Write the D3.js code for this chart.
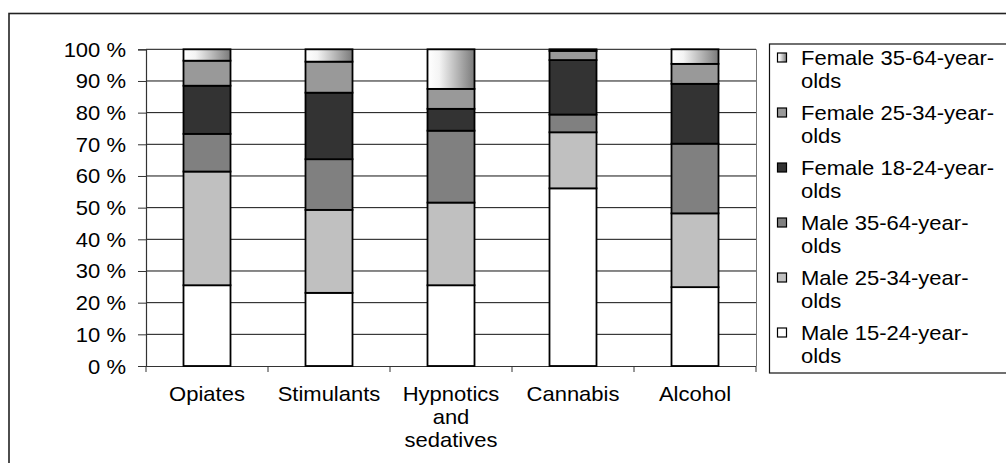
<!DOCTYPE html>
<html><head><meta charset="utf-8">
<script src="https://cdn.jsdelivr.net/npm/d3@7"></script>
<style>
html,body{margin:0;padding:0;background:#fff;}
svg{display:block;}
text{font-family:"Liberation Sans",Arial,sans-serif;font-size:20px;fill:#000;}
</style></head>
<body>
<svg id="c" width="1006" height="463"></svg>
<script>
const categories = [["Opiates"],["Stimulants"],["Hypnotics","and","sedatives"],["Cannabis"],["Alcohol"]];
const seriesNames = ["Male 15-24-year-olds","Male 25-34-year-olds","Male 35-64-year-olds","Female 18-24-year-olds","Female 25-34-year-olds","Female 35-64-year-olds"];
const male1524   = [25.5, 23.1, 25.5, 56.1, 24.9];
const male2534   = [35.9, 26.2, 26.1, 17.7, 23.3];
const male3564   = [11.9, 16.0, 22.7,  5.6, 22.0];
const female1824 = [15.2, 21.0,  6.9, 17.2, 18.9];
const female2534 = [ 7.9,  9.8,  6.3,  2.9,  6.3];
const female3564 = [ 3.6,  3.9, 12.5,  0.5,  4.6];
const yTicks = [0,10,20,30,40,50,60,70,80,90,100];
const legendLines = [["Female 35-64-year-","olds"],["Female 25-34-year-","olds"],["Female 18-24-year-","olds"],["Male 35-64-year-","olds"],["Male 25-34-year-","olds"],["Male 15-24-year-","olds"]];

const seriesValues = [male1524, male2534, male3564, female1824, female2534, female3564];
const fills = ["#ffffff","#c0c0c0","#808080","#333333","#999999","url(#grad)"];

const svg = d3.select("#c");
const defs = svg.append("defs");
const g = defs.append("linearGradient").attr("id","grad").attr("x1","0").attr("x2","1").attr("y1","0").attr("y2","0");
g.append("stop").attr("offset","0%").attr("stop-color","#ffffff");
g.append("stop").attr("offset","25%").attr("stop-color","#f4f4f4");
g.append("stop").attr("offset","100%").attr("stop-color","#7a7a7a");

// outer border
svg.append("rect").attr("x",9).attr("y",13.5).attr("width",1100).attr("height",600)
  .attr("fill","none").attr("stroke","#222").attr("stroke-width",1.6);

const L = 146, R = 756, T = 49.3, B = 366;
const x = d3.scaleBand().domain(d3.range(categories.length)).range([L,R]).paddingInner(0).paddingOuter(0);
const y = d3.scaleLinear().domain([0,100]).range([B,T]);
const bw = 47;

// gridlines
svg.append("g").selectAll("line").data(yTicks.filter(d=>d>0)).join("line")
  .attr("x1",L).attr("x2",R).attr("y1",d=>y(d)).attr("y2",d=>y(d))
  .attr("stroke","#111").attr("stroke-width",1);
// right border of plot
svg.append("line").attr("x1",R+0.5).attr("x2",R+0.5).attr("y1",T).attr("y2",B).attr("stroke","#777").attr("stroke-width",1);

// y axis
const yAxis = d3.axisLeft(y).tickValues(yTicks).tickSize(8).tickPadding(0).tickFormat(d=>d+" %");
const ya = svg.append("g").attr("transform",`translate(${L},0)`).call(yAxis);
ya.select(".domain").attr("stroke","#333").attr("stroke-width",1.2);
ya.selectAll(".tick line").attr("stroke","#333");
ya.selectAll(".tick text").attr("font-size",null).attr("font-family",null).attr("fill","#000")
  .attr("x",null).attr("dy",null)
  .attr("transform","translate(-20,7) scale(1.1,1)").attr("text-anchor","end");

// x axis
const xa = svg.append("g").attr("transform",`translate(0,${B})`);
xa.append("line").attr("x1",L).attr("x2",R).attr("y1",0.5).attr("y2",0.5).attr("stroke","#333").attr("stroke-width",1.2);
xa.selectAll("line.tk").data(d3.range(categories.length+1)).join("line").attr("class","tk")
  .attr("x1",i=>L+i*x.bandwidth()).attr("x2",i=>L+i*x.bandwidth()).attr("y1",0).attr("y2",6)
  .attr("stroke","#333");
categories.forEach((lines,i)=>{
  const cx = x(i)+x.bandwidth()/2;
  lines.forEach((t,j)=>{
    xa.append("text").attr("text-anchor","middle")
      .attr("transform",`translate(${cx},${35+j*23}) scale(1.1,1)`).text(t);
  });
});

// bars
const stack = categories.map((c,i)=>{
  let acc=0; return seriesValues.map((s,k)=>{const y0=acc; acc+=s[i]; return {i,k,y0,y1:acc};});
}).flat();
svg.append("g").selectAll("rect").data(stack).join("rect")
  .attr("x",d=>x(d.i)+x.bandwidth()/2-bw/2)
  .attr("width",bw)
  .attr("y",d=>y(d.y1))
  .attr("height",d=>y(d.y0)-y(d.y1))
  .attr("fill",d=>fills[d.k])
  .attr("stroke","#000").attr("stroke-width",1.8);

// legend
const lg = svg.append("g");
lg.append("rect").attr("x",769.5).attr("y",44).attr("width",400).attr("height",329)
  .attr("fill","#fff").attr("stroke","#111").attr("stroke-width",1.2);
const legendOrder = [5,4,3,2,1,0];
legendOrder.forEach((k,idx)=>{
  const cy = 57.5 + idx*55;
  lg.append("rect").attr("x",777.5).attr("y",cy-4.5).attr("width",9).attr("height",9)
    .attr("fill",fills[k]).attr("stroke","#000").attr("stroke-width",1.2);
  legendLines[idx].forEach((t,j)=>{
    lg.append("text").attr("transform",`translate(801,${cy+7+j*23}) scale(1.1,1)`).text(t);
  });
});
</script>
</body></html>
